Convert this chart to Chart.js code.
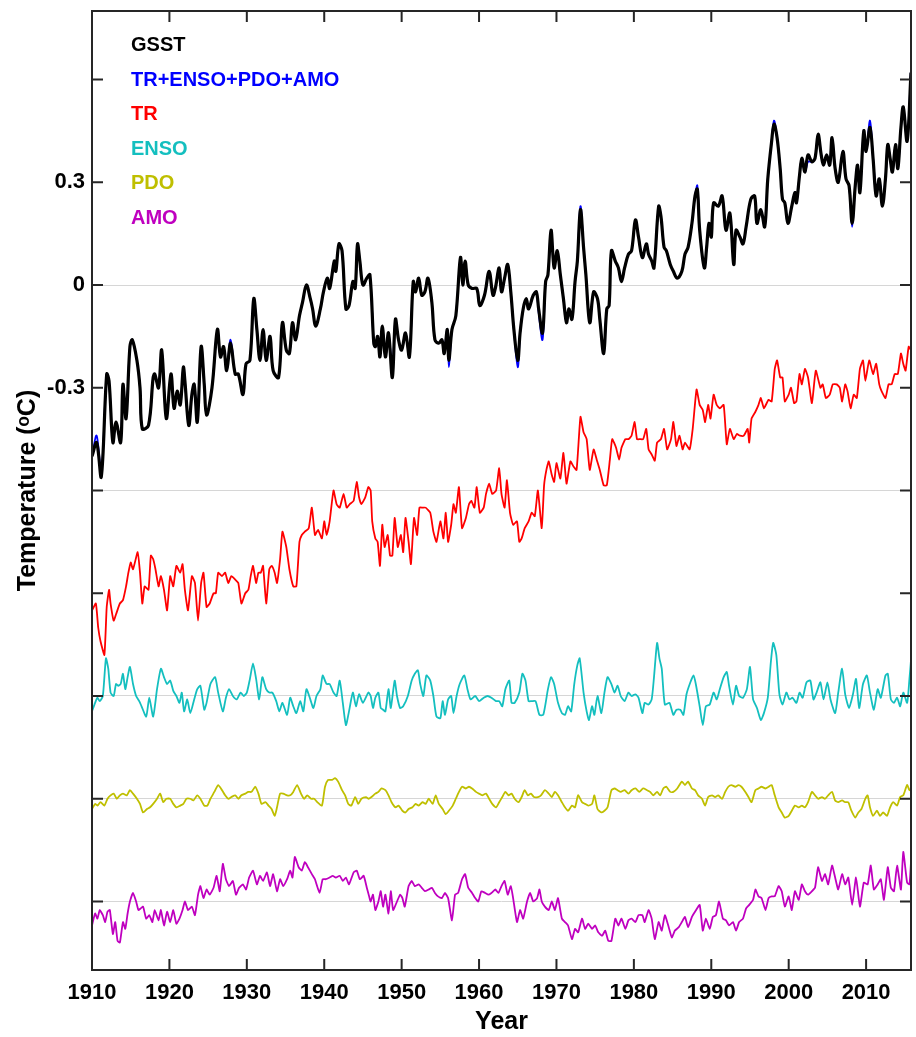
<!DOCTYPE html>
<html>
<head>
<meta charset="utf-8">
<title>GSST decomposition</title>
<script src="https://cdn.jsdelivr.net/npm/chart.js@4.4.1/dist/chart.umd.min.js"></script>
<style>
    html, body { margin: 0; padding: 0; background: #ffffff; }
    #chart { display: block; }
</style>
</head>
<body>
<canvas id="chart" width="916" height="1037"></canvas>
<script>
// Séries: [ano, valor em °C]
const gsst = [
    [1910.0,-0.50],[1910.6,-0.46],[1911.2,-0.56],[1911.9,-0.26],[1912.2,-0.28],[1912.7,-0.46],[1913.1,-0.40],[1913.7,-0.46],
    [1914.0,-0.29],[1914.4,-0.39],[1914.9,-0.18],[1915.2,-0.16],[1915.8,-0.22],[1916.2,-0.30],[1916.5,-0.42],[1917.3,-0.41],
    [1917.9,-0.27],[1918.1,-0.26],[1918.6,-0.30],[1919.0,-0.19],[1919.6,-0.39],[1920.2,-0.26],[1920.6,-0.36],[1921.0,-0.31],
    [1921.4,-0.35],[1921.8,-0.24],[1922.0,-0.28],[1922.5,-0.41],[1922.9,-0.32],[1923.2,-0.29],[1923.6,-0.40],[1924.1,-0.18],
    [1924.5,-0.29],[1924.8,-0.38],[1925.5,-0.30],[1926.2,-0.13],[1926.6,-0.21],[1927.0,-0.18],[1927.4,-0.25],[1927.9,-0.17],
    [1928.5,-0.26],[1928.9,-0.26],[1929.5,-0.32],[1929.9,-0.23],[1930.4,-0.22],[1930.9,-0.04],[1931.3,-0.13],[1931.7,-0.22],
    [1932.1,-0.13],[1932.5,-0.22],[1933.0,-0.15],[1933.4,-0.25],[1934.1,-0.27],[1934.6,-0.11],[1935.1,-0.19],[1935.5,-0.20],
    [1935.9,-0.11],[1936.3,-0.16],[1936.8,-0.09],[1937.2,-0.05],[1937.7,0.00],[1938.2,-0.04],[1938.5,-0.07],[1938.9,-0.12],
    [1939.5,-0.07],[1939.9,-0.02],[1940.4,0.02],[1940.7,-0.01],[1941.3,0.07],[1941.5,0.04],[1941.9,0.12],[1942.3,0.10],
    [1942.8,-0.07],[1943.2,-0.06],[1943.7,0.01],[1944.0,-0.01],[1944.3,0.12],[1944.6,0.07],[1945.0,0.00],[1945.5,0.02],
    [1945.9,0.03],[1946.4,-0.17],[1946.6,-0.18],[1946.9,-0.15],[1947.2,-0.21],[1947.5,-0.12],[1947.9,-0.21],[1948.3,-0.14],
    [1948.8,-0.27],[1949.2,-0.10],[1949.6,-0.16],[1950.0,-0.19],[1950.5,-0.14],[1951.0,-0.21],[1951.5,0.01],[1951.8,-0.02],
    [1952.2,0.02],[1952.6,-0.03],[1953.0,-0.02],[1953.4,0.02],[1953.9,-0.05],[1954.3,-0.16],[1954.8,-0.17],[1955.2,-0.16],
    [1955.5,-0.20],[1955.9,-0.13],[1956.1,-0.22],[1956.5,-0.13],[1957.0,-0.09],[1957.6,0.08],[1957.9,0.00],[1958.2,0.07],
    [1958.6,0.00],[1959.1,-0.01],[1959.7,-0.01],[1960.1,-0.06],[1960.7,-0.03],[1961.3,0.04],[1961.8,-0.03],[1962.1,-0.01],
    [1962.6,0.05],[1962.9,-0.02],[1963.3,0.02],[1963.7,0.06],[1964.1,-0.02],[1964.5,-0.13],[1965.0,-0.22],[1965.3,-0.14],
    [1965.7,-0.07],[1966.1,-0.04],[1966.4,-0.07],[1967.0,-0.03],[1967.4,-0.02],[1967.7,-0.07],[1968.2,-0.14],[1968.6,0.01],
    [1968.9,0.03],[1969.3,0.16],[1969.7,0.05],[1970.1,0.10],[1970.5,0.03],[1970.9,-0.04],[1971.3,-0.11],[1971.6,-0.07],
    [1972.0,-0.10],[1972.4,0.01],[1972.7,0.07],[1973.1,0.22],[1973.5,0.11],[1973.8,0.03],[1974.3,-0.11],[1974.8,-0.02],
    [1975.3,-0.04],[1975.6,-0.10],[1976.1,-0.20],[1976.5,-0.07],[1976.8,-0.06],[1977.1,0.10],[1977.6,0.07],[1978.0,0.05],
    [1978.4,0.01],[1978.8,0.05],[1979.3,0.09],[1979.7,0.10],[1980.2,0.19],[1980.6,0.14],[1981.1,0.08],[1981.6,0.12],
    [1981.9,0.09],[1982.3,0.07],[1982.6,0.05],[1983.2,0.23],[1983.5,0.20],[1983.9,0.11],[1984.2,0.10],[1984.7,0.06],
    [1985.1,0.04],[1985.6,0.02],[1986.2,0.04],[1986.6,0.09],[1987.0,0.11],[1987.5,0.18],[1987.9,0.26],[1988.2,0.28],
    [1988.5,0.16],[1989.1,0.05],[1989.4,0.11],[1989.7,0.18],[1990.0,0.14],[1990.3,0.24],[1990.9,0.23],[1991.4,0.26],
    [1991.9,0.16],[1992.4,0.21],[1992.9,0.06],[1993.2,0.16],[1993.7,0.14],[1994.1,0.12],[1994.5,0.17],[1995.1,0.25],
    [1995.6,0.26],[1995.9,0.18],[1996.4,0.22],[1996.9,0.17],[1997.3,0.31],[1997.8,0.42],[1998.1,0.47],[1998.5,0.43],
    [1998.9,0.34],[1999.2,0.25],[1999.5,0.24],[1999.9,0.18],[2000.4,0.23],[2000.8,0.27],[2001.0,0.24],[2001.4,0.32],
    [2001.7,0.37],[2002.1,0.33],[2002.5,0.38],[2003.0,0.36],[2003.4,0.37],[2003.8,0.44],[2004.2,0.38],[2004.5,0.35],
    [2004.9,0.38],[2005.3,0.35],[2005.6,0.43],[2006.0,0.34],[2006.4,0.30],[2007.0,0.39],[2007.4,0.31],[2007.8,0.29],
    [2008.2,0.18],[2008.6,0.29],[2008.9,0.35],[2009.2,0.27],[2009.7,0.45],[2010.0,0.39],[2010.5,0.46],[2010.9,0.37],
    [2011.3,0.26],[2011.7,0.31],[2012.1,0.23],[2012.5,0.31],[2012.8,0.41],[2013.1,0.37],[2013.4,0.33],[2013.8,0.41],
    [2014.1,0.34],[2014.5,0.46],[2014.8,0.52],[2015.3,0.42],[2015.8,0.62]
];

const modelSum = [
    [1910.0,-0.50],[1910.6,-0.44],[1911.2,-0.55],[1911.9,-0.26],[1912.2,-0.28],[1912.7,-0.46],[1913.1,-0.40],[1913.7,-0.46],
    [1914.0,-0.29],[1914.4,-0.38],[1914.9,-0.18],[1915.2,-0.16],[1915.8,-0.22],[1916.2,-0.30],[1916.5,-0.42],[1917.3,-0.41],
    [1917.9,-0.27],[1918.1,-0.26],[1918.6,-0.30],[1919.0,-0.19],[1919.6,-0.39],[1920.2,-0.26],[1920.6,-0.36],[1921.0,-0.31],
    [1921.4,-0.35],[1921.8,-0.24],[1922.0,-0.28],[1922.5,-0.41],[1922.9,-0.32],[1923.2,-0.29],[1923.6,-0.40],[1924.1,-0.18],
    [1924.5,-0.29],[1924.8,-0.38],[1925.5,-0.30],[1926.2,-0.13],[1926.6,-0.21],[1927.0,-0.18],[1927.4,-0.25],[1927.9,-0.16],
    [1928.5,-0.26],[1928.9,-0.26],[1929.5,-0.32],[1929.9,-0.23],[1930.4,-0.22],[1930.9,-0.04],[1931.3,-0.13],[1931.7,-0.22],
    [1932.1,-0.13],[1932.5,-0.22],[1933.0,-0.15],[1933.4,-0.25],[1934.1,-0.27],[1934.6,-0.11],[1935.1,-0.19],[1935.5,-0.20],
    [1935.9,-0.11],[1936.3,-0.16],[1936.8,-0.09],[1937.2,-0.05],[1937.7,0.00],[1938.2,-0.04],[1938.5,-0.07],[1938.9,-0.12],
    [1939.5,-0.07],[1939.9,-0.02],[1940.4,0.02],[1940.7,-0.01],[1941.3,0.07],[1941.5,0.04],[1941.9,0.12],[1942.3,0.10],
    [1942.8,-0.07],[1943.2,-0.06],[1943.7,0.01],[1944.0,-0.01],[1944.3,0.12],[1944.6,0.07],[1945.0,0.00],[1945.5,0.02],
    [1945.9,0.03],[1946.4,-0.17],[1946.6,-0.18],[1946.9,-0.16],[1947.2,-0.21],[1947.5,-0.12],[1947.9,-0.21],[1948.3,-0.14],
    [1948.8,-0.25],[1949.2,-0.10],[1949.6,-0.16],[1950.0,-0.19],[1950.5,-0.14],[1951.0,-0.21],[1951.5,0.01],[1951.8,-0.02],
    [1952.2,0.02],[1952.6,-0.03],[1953.0,-0.02],[1953.4,0.02],[1953.9,-0.05],[1954.3,-0.16],[1954.8,-0.17],[1955.2,-0.16],
    [1955.5,-0.19],[1955.9,-0.13],[1956.1,-0.24],[1956.5,-0.13],[1957.0,-0.09],[1957.6,0.08],[1957.9,0.00],[1958.2,0.07],
    [1958.6,0.00],[1959.1,-0.01],[1959.7,-0.01],[1960.1,-0.06],[1960.7,-0.03],[1961.3,0.04],[1961.8,-0.03],[1962.1,-0.01],
    [1962.6,0.05],[1962.9,-0.02],[1963.3,0.02],[1963.7,0.06],[1964.1,-0.02],[1964.5,-0.13],[1965.0,-0.24],[1965.3,-0.14],
    [1965.7,-0.07],[1966.1,-0.04],[1966.4,-0.07],[1967.0,-0.03],[1967.4,-0.02],[1967.7,-0.08],[1968.2,-0.16],[1968.6,0.01],
    [1968.9,0.03],[1969.3,0.16],[1969.7,0.05],[1970.1,0.10],[1970.5,0.03],[1970.9,-0.04],[1971.3,-0.11],[1971.6,-0.07],
    [1972.0,-0.10],[1972.4,0.01],[1972.7,0.07],[1973.1,0.23],[1973.5,0.11],[1973.8,0.03],[1974.3,-0.11],[1974.8,-0.02],
    [1975.3,-0.04],[1975.6,-0.10],[1976.1,-0.20],[1976.5,-0.07],[1976.8,-0.06],[1977.1,0.10],[1977.6,0.07],[1978.0,0.05],
    [1978.4,0.01],[1978.8,0.05],[1979.3,0.09],[1979.7,0.10],[1980.2,0.19],[1980.6,0.14],[1981.1,0.08],[1981.6,0.12],
    [1981.9,0.09],[1982.3,0.07],[1982.6,0.05],[1983.2,0.23],[1983.5,0.20],[1983.9,0.11],[1984.2,0.10],[1984.7,0.06],
    [1985.1,0.04],[1985.6,0.02],[1986.2,0.04],[1986.6,0.09],[1987.0,0.11],[1987.5,0.18],[1987.9,0.26],[1988.2,0.29],
    [1988.5,0.16],[1989.1,0.05],[1989.4,0.11],[1989.7,0.18],[1990.0,0.14],[1990.3,0.24],[1990.9,0.23],[1991.4,0.26],
    [1991.9,0.16],[1992.4,0.21],[1992.9,0.07],[1993.2,0.16],[1993.7,0.14],[1994.1,0.12],[1994.5,0.17],[1995.1,0.25],
    [1995.6,0.26],[1995.9,0.18],[1996.4,0.22],[1996.9,0.17],[1997.3,0.31],[1997.8,0.42],[1998.1,0.48],[1998.5,0.43],
    [1998.9,0.34],[1999.2,0.25],[1999.5,0.24],[1999.9,0.18],[2000.4,0.23],[2000.8,0.27],[2001.0,0.24],[2001.4,0.32],
    [2001.7,0.37],[2002.1,0.33],[2002.5,0.36],[2003.0,0.36],[2003.4,0.37],[2003.8,0.44],[2004.2,0.38],[2004.5,0.35],
    [2004.9,0.38],[2005.3,0.35],[2005.6,0.43],[2006.0,0.34],[2006.4,0.30],[2007.0,0.39],[2007.4,0.31],[2007.8,0.29],
    [2008.2,0.17],[2008.6,0.29],[2008.9,0.35],[2009.2,0.27],[2009.7,0.45],[2010.0,0.39],[2010.5,0.48],[2010.9,0.37],
    [2011.3,0.28],[2011.7,0.31],[2012.1,0.24],[2012.5,0.31],[2012.8,0.41],[2013.1,0.37],[2013.4,0.33],[2013.8,0.41],
    [2014.1,0.34],[2014.5,0.46],[2014.8,0.52],[2015.3,0.42],[2015.8,0.63]
];

const tr = [
    [1910.0,-0.35],[1910.5,-0.33],[1910.8,-0.40],[1911.1,-0.44],[1911.6,-0.48],[1911.9,-0.34],[1912.2,-0.29],[1912.4,-0.33],
    [1912.8,-0.38],[1913.2,-0.355],[1913.6,-0.33],[1914.0,-0.32],[1914.4,-0.28],[1914.7,-0.24],[1915.0,-0.21],[1915.3,-0.23],
    [1915.9,-0.18],[1916.2,-0.24],[1916.5,-0.33],[1916.8,-0.28],[1917.3,-0.29],[1917.6,-0.19],[1917.9,-0.20],[1918.2,-0.23],
    [1918.6,-0.28],[1918.9,-0.25],[1919.3,-0.29],[1919.7,-0.35],[1920.1,-0.25],[1920.5,-0.28],[1920.9,-0.22],[1921.4,-0.24],
    [1921.7,-0.215],[1922.0,-0.29],[1922.4,-0.35],[1922.9,-0.25],[1923.3,-0.27],[1923.7,-0.38],[1924.1,-0.27],[1924.4,-0.24],
    [1924.8,-0.34],[1925.2,-0.33],[1925.7,-0.30],[1926.0,-0.30],[1926.3,-0.24],[1926.8,-0.25],[1927.2,-0.24],[1927.6,-0.27],
    [1928.0,-0.25],[1928.5,-0.26],[1928.9,-0.27],[1929.3,-0.33],[1929.8,-0.30],[1930.2,-0.29],[1930.5,-0.25],[1930.8,-0.22],
    [1931.2,-0.27],[1931.5,-0.24],[1931.8,-0.24],[1932.1,-0.22],[1932.5,-0.33],[1932.9,-0.23],[1933.2,-0.22],[1933.6,-0.24],
    [1933.9,-0.27],[1934.3,-0.20],[1934.6,-0.12],[1935.1,-0.165],[1935.5,-0.23],[1936.0,-0.28],[1936.4,-0.28],[1936.8,-0.15],
    [1937.1,-0.13],[1937.5,-0.12],[1938.0,-0.11],[1938.4,-0.05],[1938.8,-0.13],[1939.2,-0.115],[1939.7,-0.14],[1940.0,-0.09],
    [1940.3,-0.13],[1940.7,-0.09],[1941.2,0.00],[1941.6,-0.04],[1942.0,-0.05],[1942.5,-0.01],[1942.9,-0.05],[1943.3,-0.04],
    [1943.8,-0.03],[1944.2,0.025],[1944.5,-0.02],[1944.8,-0.04],[1945.3,-0.02],[1945.7,0.01],[1946.0,0.00],[1946.2,-0.09],
    [1946.6,-0.14],[1946.9,-0.15],[1947.2,-0.22],[1947.5,-0.10],[1947.8,-0.165],[1948.2,-0.13],[1948.5,-0.19],[1948.8,-0.19],
    [1949.1,-0.08],[1949.5,-0.165],[1949.9,-0.13],[1950.2,-0.18],[1950.5,-0.08],[1950.9,-0.15],[1951.2,-0.215],[1951.6,-0.08],
    [1952.0,-0.13],[1952.3,-0.05],[1952.7,-0.05],[1953.1,-0.05],[1953.7,-0.065],[1954.1,-0.12],[1954.5,-0.15],[1955.0,-0.09],
    [1955.4,-0.14],[1955.7,-0.065],[1956.0,-0.15],[1956.4,-0.10],[1956.7,-0.04],[1957.0,-0.065],[1957.4,0.01],[1957.8,-0.11],
    [1958.3,-0.08],[1958.7,-0.04],[1959.0,-0.03],[1959.4,-0.05],[1959.7,0.01],[1960.1,-0.065],[1960.6,-0.05],[1960.9,-0.01],
    [1961.3,0.02],[1961.7,-0.01],[1962.2,0.00],[1962.6,0.065],[1962.9,-0.01],[1963.3,-0.05],[1963.6,0.03],[1964.0,-0.065],
    [1964.4,-0.10],[1964.9,-0.09],[1965.2,-0.15],[1965.5,-0.14],[1965.9,-0.11],[1966.4,-0.09],[1966.8,-0.065],[1967.2,-0.075],
    [1967.6,0.00],[1968.1,-0.11],[1968.4,0.015],[1968.7,0.06],[1969.0,0.085],[1969.4,0.045],[1969.7,0.025],[1970.0,0.08],
    [1970.5,0.035],[1970.9,0.11],[1971.3,0.02],[1971.8,0.085],[1972.2,0.07],[1972.6,0.06],[1973.1,0.215],[1973.5,0.17],
    [1973.9,0.15],[1974.3,0.06],[1974.8,0.12],[1975.2,0.09],[1975.6,0.06],[1976.1,0.015],[1976.5,0.015],[1976.9,0.09],
    [1977.2,0.15],[1977.7,0.125],[1978.1,0.09],[1978.4,0.125],[1978.9,0.15],[1979.3,0.15],[1979.7,0.16],[1980.1,0.20],
    [1980.4,0.15],[1980.8,0.15],[1981.2,0.15],[1981.6,0.18],[1981.9,0.12],[1982.3,0.105],[1982.7,0.087],[1983.0,0.14],
    [1983.5,0.15],[1983.9,0.18],[1984.3,0.12],[1984.8,0.15],[1985.1,0.20],[1985.5,0.13],[1985.9,0.16],[1986.3,0.12],
    [1986.6,0.14],[1987.2,0.12],[1987.6,0.18],[1988.1,0.295],[1988.5,0.25],[1988.9,0.235],[1989.2,0.20],[1989.6,0.25],
    [1989.9,0.21],[1990.3,0.28],[1990.7,0.25],[1991.1,0.24],[1991.6,0.25],[1992.0,0.135],[1992.4,0.18],[1992.9,0.15],
    [1993.3,0.165],[1993.7,0.16],[1994.2,0.16],[1994.7,0.18],[1994.9,0.14],[1995.2,0.21],[1995.7,0.23],[1996.1,0.25],
    [1996.4,0.27],[1996.8,0.24],[1997.4,0.265],[1997.8,0.26],[1998.2,0.355],[1998.5,0.38],[1998.9,0.33],[1999.2,0.33],
    [1999.5,0.26],[2000.0,0.28],[2000.3,0.30],[2000.7,0.255],[2001.0,0.26],[2001.4,0.34],[2001.7,0.31],[2002.1,0.355],
    [2002.5,0.33],[2003.0,0.255],[2003.5,0.35],[2004.1,0.30],[2004.4,0.31],[2004.8,0.27],[2005.3,0.28],[2005.7,0.31],
    [2006.2,0.31],[2006.6,0.30],[2006.9,0.26],[2007.3,0.31],[2007.6,0.29],[2008.0,0.24],[2008.4,0.28],[2008.8,0.27],
    [2009.2,0.355],[2009.6,0.38],[2009.9,0.32],[2010.4,0.38],[2010.9,0.34],[2011.3,0.37],[2011.7,0.31],[2012.0,0.29],
    [2012.5,0.27],[2012.9,0.31],[2013.3,0.31],[2013.7,0.34],[2014.1,0.34],[2014.5,0.40],[2014.8,0.37],[2015.1,0.35],
    [2015.5,0.42],[2015.8,0.41]
];

const enso = [
    [1910.0,-0.045],[1910.4,-0.02],[1910.7,-0.005],[1911.0,-0.015],[1911.4,0.0],[1911.8,0.11],[1912.1,0.08],[1912.4,0.01],
    [1912.8,0.0],[1913.1,0.035],[1913.4,0.03],[1913.7,0.035],[1914.0,0.065],[1914.3,0.02],[1914.6,0.055],[1914.9,0.085],
    [1915.3,0.035],[1915.7,0.0],[1916.1,-0.015],[1916.4,-0.03],[1917.0,-0.06],[1917.4,-0.005],[1917.9,-0.06],[1918.4,0.02],
    [1918.9,0.08],[1919.3,0.055],[1919.7,0.035],[1920.1,0.045],[1920.5,0.015],[1920.9,0.0],[1921.3,-0.02],[1921.6,0.01],
    [1921.9,-0.045],[1922.3,-0.01],[1922.7,-0.05],[1923.2,-0.01],[1923.6,0.02],[1924.0,0.03],[1924.5,-0.04],[1924.8,-0.02],
    [1925.3,0.035],[1925.9,0.055],[1926.3,0.01],[1926.9,-0.045],[1927.3,-0.005],[1927.7,0.02],[1928.2,0.0],[1928.7,-0.01],
    [1929.2,0.01],[1929.6,0.0],[1930.0,0.01],[1930.4,0.05],[1930.8,0.095],[1931.2,0.05],[1931.6,-0.01],[1932.0,0.055],
    [1932.5,0.02],[1932.9,0.01],[1933.3,0.01],[1933.8,-0.015],[1934.2,-0.045],[1934.6,-0.02],[1935.2,-0.055],[1935.6,-0.005],
    [1936.0,-0.03],[1936.4,-0.05],[1936.9,-0.015],[1937.3,-0.045],[1937.7,0.02],[1938.2,-0.01],[1938.6,-0.035],[1939.0,0.0],
    [1939.5,0.02],[1939.8,0.06],[1940.3,0.035],[1940.7,0.035],[1941.2,0.01],[1941.6,0.0],[1942.0,0.045],[1942.4,-0.02],
    [1942.8,-0.085],[1943.2,-0.045],[1943.7,0.01],[1944.1,-0.03],[1944.5,0.005],[1945.0,-0.02],[1945.7,0.01],[1946.0,0.0],
    [1946.3,-0.035],[1946.6,-0.005],[1947.0,0.01],[1947.3,-0.035],[1947.6,-0.04],[1947.9,-0.045],[1948.3,0.02],[1948.6,-0.035],
    [1949.1,0.045],[1949.4,0.0],[1949.8,-0.035],[1950.2,-0.03],[1950.8,0.0],[1951.3,0.045],[1951.7,0.065],[1952.1,0.075],
    [1952.4,0.035],[1952.8,0.0],[1953.2,0.06],[1953.7,0.045],[1954.1,0.0],[1954.5,-0.06],[1955.0,-0.065],[1955.3,-0.015],
    [1955.6,-0.055],[1956.0,-0.01],[1956.4,0.0],[1956.7,-0.05],[1957.1,0.0],[1957.5,0.035],[1958.1,0.06],[1958.5,0.02],
    [1958.9,-0.01],[1959.5,0.0],[1960.0,-0.015],[1960.6,-0.005],[1961.1,0.0],[1961.6,-0.005],[1962.2,-0.015],[1962.6,-0.015],
    [1963.0,-0.03],[1963.4,0.02],[1963.9,0.045],[1964.2,-0.02],[1964.6,-0.02],[1965.2,0.01],[1965.6,0.065],[1966.0,0.045],
    [1966.4,-0.015],[1966.8,-0.015],[1967.3,-0.015],[1967.8,-0.055],[1968.3,-0.055],[1968.9,0.02],[1969.3,0.055],[1969.7,0.035],
    [1970.2,-0.02],[1970.7,-0.05],[1971.1,-0.055],[1971.5,-0.03],[1971.9,-0.045],[1972.3,0.035],[1972.7,0.09],[1973.0,0.11],
    [1973.5,0.01],[1973.9,-0.045],[1974.2,-0.07],[1974.6,-0.03],[1974.9,-0.055],[1975.3,0.0],[1975.8,-0.05],[1976.2,0.01],
    [1976.6,0.055],[1977.1,0.035],[1977.5,0.01],[1977.9,0.03],[1978.3,0.0],[1978.8,-0.015],[1979.3,0.01],[1979.7,0.0],
    [1980.2,0.005],[1980.6,-0.005],[1981.1,-0.05],[1981.4,-0.02],[1981.9,-0.025],[1982.3,-0.01],[1982.6,0.055],[1983.0,0.155],
    [1983.3,0.11],[1983.6,0.08],[1984.0,-0.025],[1984.6,-0.02],[1985.1,-0.055],[1985.5,-0.04],[1986.0,-0.04],[1986.4,-0.055],
    [1986.8,0.005],[1987.3,0.04],[1987.7,0.06],[1988.0,0.035],[1988.5,-0.03],[1988.9,-0.085],[1989.3,-0.03],[1989.8,-0.025],
    [1990.3,0.01],[1990.7,-0.01],[1991.1,0.02],[1991.6,0.055],[1992.0,0.07],[1992.3,0.03],[1992.8,-0.025],[1993.2,0.03],
    [1993.6,0.0],[1994.1,-0.005],[1994.6,0.02],[1995.0,0.085],[1995.4,-0.01],[1995.9,-0.035],[1996.4,-0.07],[1996.8,-0.05],
    [1997.3,-0.005],[1997.7,0.10],[1998.0,0.155],[1998.4,0.12],[1998.8,0.005],[1999.2,-0.025],[1999.7,0.01],[2000.1,-0.01],
    [2000.5,-0.005],[2001.0,-0.02],[2001.4,0.01],[2001.8,-0.005],[2002.3,0.04],[2002.8,0.045],[2003.2,-0.01],[2003.6,0.01],
    [2004.1,0.04],[2004.5,-0.01],[2005.0,0.04],[2005.4,-0.01],[2006.0,-0.05],[2006.4,0.01],[2006.9,0.08],[2007.3,0.005],
    [2007.8,-0.035],[2008.3,0.005],[2008.7,0.05],[2009.1,-0.035],[2009.6,0.035],[2010.1,0.06],[2010.5,0.01],[2011.0,-0.04],
    [2011.5,0.02],[2011.9,-0.005],[2012.5,0.06],[2012.8,0.065],[2013.2,-0.01],[2013.6,-0.02],[2014.0,-0.005],[2014.4,-0.03],
    [2014.8,0.01],[2015.3,-0.02],[2015.6,0.05],[2015.8,0.105]
];

const pdo = [
    [1910.0,-0.03],[1910.4,-0.015],[1910.7,-0.02],[1911.1,-0.01],[1911.6,-0.02],[1912.0,0.0],[1912.4,0.01],[1912.8,0.015],
    [1913.2,0.0],[1913.6,0.01],[1914.0,0.015],[1914.5,0.01],[1914.9,0.025],[1915.3,0.015],[1915.8,0.0],[1916.2,-0.015],
    [1916.6,-0.04],[1917.1,-0.03],[1917.5,-0.025],[1917.9,-0.015],[1918.4,0.0],[1918.8,0.015],[1919.2,-0.01],[1919.6,0.0],
    [1920.1,0.0],[1920.5,-0.015],[1920.9,-0.025],[1921.4,-0.02],[1921.8,-0.015],[1922.2,0.0],[1922.7,0.0],[1923.1,-0.005],
    [1923.6,0.01],[1924.0,0.0],[1924.5,-0.02],[1924.9,-0.02],[1925.3,0.0],[1925.8,0.02],[1926.3,0.04],[1926.8,0.025],
    [1927.2,0.01],[1927.6,0.0],[1928.0,0.005],[1928.5,0.01],[1928.9,0.0],[1929.3,0.01],[1929.8,0.015],[1930.2,0.02],
    [1930.6,0.02],[1931.1,0.035],[1931.5,0.015],[1931.9,-0.015],[1932.4,-0.01],[1932.8,-0.02],[1933.2,-0.03],[1933.6,-0.05],
    [1933.9,-0.025],[1934.3,0.015],[1934.7,0.015],[1935.2,0.01],[1935.6,0.01],[1936.0,0.02],[1936.5,0.04],[1937.0,0.015],
    [1937.4,0.0],[1937.8,0.01],[1938.3,0.0],[1938.7,0.0],[1939.1,-0.01],[1939.7,-0.02],[1940.1,0.035],[1940.5,0.055],
    [1941.0,0.055],[1941.4,0.06],[1941.8,0.05],[1942.3,0.025],[1942.7,0.01],[1943.1,-0.015],[1943.5,-0.02],[1944.0,0.005],
    [1944.4,-0.015],[1944.8,0.0],[1945.4,0.005],[1945.7,0.0],[1946.1,0.005],[1946.6,0.015],[1947.0,0.02],[1947.4,0.03],
    [1947.9,0.025],[1948.3,0.01],[1948.7,-0.01],[1949.2,-0.025],[1949.6,-0.02],[1950.1,-0.035],[1950.5,-0.04],[1950.9,-0.03],
    [1951.4,-0.025],[1951.8,-0.015],[1952.2,-0.02],[1952.7,-0.01],[1953.1,-0.015],[1953.5,0.0],[1954.0,-0.015],[1954.4,0.01],
    [1954.8,-0.015],[1955.3,-0.03],[1955.7,-0.045],[1956.1,-0.035],[1956.6,-0.02],[1957.0,0.0],[1957.4,0.02],[1957.8,0.035],
    [1958.3,0.03],[1958.7,0.035],[1959.1,0.03],[1959.6,0.02],[1960.0,0.015],[1960.4,0.01],[1960.9,0.015],[1961.3,0.0],
    [1961.7,-0.015],[1962.2,-0.025],[1962.6,-0.01],[1963.0,0.005],[1963.4,0.02],[1963.8,0.01],[1964.2,0.015],[1964.6,0.0],
    [1965.1,-0.01],[1965.5,0.005],[1965.9,0.025],[1966.3,0.01],[1966.7,0.015],[1967.1,0.005],[1967.6,0.005],[1968.0,0.01],
    [1968.5,0.025],[1969.0,0.015],[1969.4,0.005],[1969.8,0.02],[1970.2,0.01],[1970.7,-0.01],[1971.1,-0.025],[1971.5,-0.035],
    [1972.0,-0.02],[1972.4,-0.025],[1972.8,0.01],[1973.3,-0.01],[1973.7,-0.015],[1974.1,-0.02],[1974.6,-0.015],[1974.9,0.01],
    [1975.3,-0.03],[1975.8,-0.04],[1976.2,-0.035],[1976.6,-0.025],[1977.1,0.025],[1977.5,0.03],[1977.9,0.025],[1978.3,0.02],
    [1978.8,0.025],[1979.3,0.015],[1979.7,0.025],[1980.2,0.03],[1980.7,0.02],[1981.2,0.03],[1981.7,0.025],[1982.1,0.02],
    [1982.5,0.01],[1983.0,0.02],[1983.4,0.01],[1983.8,0.03],[1984.2,0.035],[1984.7,0.02],[1985.1,0.02],[1985.6,0.03],
    [1986.2,0.05],[1986.6,0.04],[1987.0,0.05],[1987.5,0.03],[1987.9,0.025],[1988.3,0.01],[1988.8,0.0],[1989.2,-0.02],
    [1989.6,0.005],[1990.1,0.01],[1990.5,0.005],[1990.9,0.01],[1991.4,0.0],[1991.8,0.02],[1992.2,0.035],[1992.6,0.04],
    [1993.1,0.035],[1993.5,0.04],[1993.9,0.035],[1994.4,0.02],[1994.8,0.005],[1995.2,-0.01],[1995.7,0.025],[1996.1,0.03],
    [1996.5,0.035],[1997.0,0.03],[1997.4,0.035],[1997.8,0.04],[1998.2,0.01],[1998.7,-0.025],[1999.1,-0.04],[1999.5,-0.055],
    [2000.0,-0.05],[2000.4,-0.035],[2000.8,-0.02],[2001.3,-0.025],[2001.7,-0.02],[2002.1,-0.025],[2002.5,-0.01],[2003.0,0.02],
    [2003.4,0.01],[2003.8,0.0],[2004.3,0.005],[2004.7,0.0],[2005.1,0.01],[2005.6,0.02],[2006.0,-0.005],[2006.4,-0.01],
    [2006.9,-0.005],[2007.3,-0.01],[2007.7,-0.01],[2008.1,-0.035],[2008.6,-0.055],[2009.0,-0.04],[2009.4,-0.03],[2009.9,0.0],
    [2010.2,0.01],[2010.5,-0.025],[2010.9,-0.05],[2011.4,-0.035],[2011.8,-0.05],[2012.2,-0.04],[2012.7,-0.05],[2013.1,-0.025],
    [2013.5,-0.01],[2014.0,-0.02],[2014.4,0.005],[2014.8,0.01],[2015.3,0.04],[2015.6,0.025],[2015.8,0.03]
];

const amo = [
    [1910.0,-0.07],[1910.4,-0.035],[1910.7,-0.05],[1911.0,-0.025],[1911.4,-0.04],[1911.7,-0.06],[1912.0,-0.03],[1912.3,-0.025],
    [1912.7,-0.095],[1913.0,-0.06],[1913.3,-0.115],[1913.6,-0.12],[1914.0,-0.06],[1914.3,-0.08],[1914.6,-0.035],[1914.9,0.0],
    [1915.3,0.025],[1915.7,0.0],[1916.0,-0.025],[1916.3,-0.02],[1916.6,-0.015],[1917.0,-0.05],[1917.4,-0.04],[1917.8,-0.06],
    [1918.1,-0.025],[1918.6,-0.055],[1918.9,-0.025],[1919.3,-0.07],[1919.7,-0.03],[1920.1,-0.06],[1920.5,-0.025],[1920.9,-0.065],
    [1921.3,-0.05],[1921.7,-0.025],[1922.0,0.0],[1922.4,-0.025],[1922.9,-0.015],[1923.3,-0.04],[1923.7,0.02],[1924.0,0.045],
    [1924.4,0.01],[1924.8,0.035],[1925.2,0.02],[1925.7,0.04],[1926.1,0.075],[1926.5,0.03],[1926.9,0.11],[1927.3,0.065],
    [1927.7,0.045],[1928.2,0.06],[1928.6,0.02],[1929.0,0.04],[1929.5,0.05],[1929.9,0.035],[1930.3,0.07],[1930.8,0.09],
    [1931.3,0.05],[1931.7,0.075],[1932.1,0.06],[1932.6,0.085],[1933.0,0.045],[1933.4,0.08],[1933.9,0.03],[1934.3,0.065],
    [1934.7,0.045],[1935.2,0.065],[1935.6,0.09],[1935.9,0.07],[1936.2,0.13],[1936.7,0.10],[1937.1,0.09],[1937.5,0.115],
    [1937.9,0.10],[1938.4,0.08],[1938.8,0.065],[1939.4,0.025],[1939.8,0.065],[1940.2,0.065],[1940.7,0.07],[1941.1,0.075],
    [1941.5,0.07],[1942.0,0.075],[1942.4,0.06],[1942.8,0.07],[1943.2,0.05],[1943.8,0.085],[1944.2,0.09],[1944.6,0.065],
    [1945.1,0.075],[1945.5,0.04],[1945.8,0.015],[1946.0,0.0],[1946.3,0.02],[1946.6,-0.025],[1947.0,0.0],[1947.3,0.03],
    [1947.6,-0.015],[1947.9,0.02],[1948.3,-0.035],[1948.6,0.03],[1948.9,-0.025],[1949.4,0.0],[1949.8,0.02],[1950.1,0.01],
    [1950.4,-0.015],[1950.9,0.045],[1951.3,0.06],[1951.7,0.045],[1952.2,0.05],[1952.6,0.04],[1953.0,0.03],[1953.5,0.035],
    [1953.9,0.04],[1954.3,0.025],[1954.7,0.015],[1955.2,0.01],[1955.6,0.025],[1956.0,0.01],[1956.5,-0.055],[1956.9,0.02],
    [1957.3,0.025],[1957.8,0.065],[1958.2,0.08],[1958.6,0.04],[1959.1,0.025],[1959.5,0.01],[1959.9,0.0],[1960.3,0.03],
    [1960.8,0.025],[1961.2,0.02],[1961.6,0.025],[1962.1,0.035],[1962.5,0.025],[1962.9,0.045],[1963.3,0.06],[1963.7,0.02],
    [1964.1,0.045],[1964.4,0.01],[1964.9,-0.06],[1965.3,-0.025],[1965.7,-0.05],[1966.2,0.0],[1966.6,0.025],[1967.0,0.0],
    [1967.5,0.01],[1967.8,0.035],[1968.1,0.0],[1968.5,-0.015],[1969.0,-0.025],[1969.4,0.0],[1969.8,-0.025],[1970.2,0.01],
    [1970.7,-0.05],[1971.1,-0.06],[1971.5,-0.07],[1972.0,-0.11],[1972.4,-0.08],[1972.8,-0.09],[1973.3,-0.05],[1973.7,-0.08],
    [1974.1,-0.065],[1974.6,-0.08],[1975.0,-0.07],[1975.4,-0.09],[1975.9,-0.10],[1976.3,-0.085],[1976.7,-0.115],[1977.1,-0.115],
    [1977.6,-0.05],[1978.0,-0.07],[1978.4,-0.05],[1978.9,-0.08],[1979.3,-0.055],[1979.7,-0.05],[1980.2,-0.06],[1980.6,-0.04],
    [1981.1,-0.04],[1981.4,-0.06],[1981.9,-0.025],[1982.3,-0.05],[1982.7,-0.11],[1983.2,-0.06],[1983.6,-0.085],[1984.0,-0.04],
    [1984.5,-0.075],[1984.9,-0.105],[1985.3,-0.085],[1985.8,-0.075],[1986.2,-0.06],[1986.6,-0.045],[1987.0,-0.075],[1987.5,-0.045],
    [1987.9,-0.03],[1988.5,-0.01],[1988.9,-0.085],[1989.3,-0.05],[1989.8,-0.08],[1990.2,-0.045],[1990.6,-0.04],[1991.0,0.0],
    [1991.5,-0.05],[1991.9,-0.055],[1992.3,-0.07],[1992.8,-0.06],[1993.2,-0.085],[1993.6,-0.06],[1994.1,-0.05],[1994.5,-0.02],
    [1994.9,-0.01],[1995.4,0.005],[1995.7,0.035],[1996.1,0.015],[1996.5,0.01],[1997.0,-0.025],[1997.4,0.01],[1997.8,0.015],
    [1998.2,0.015],[1998.7,0.045],[1999.1,0.03],[1999.5,-0.015],[2000.0,0.015],[2000.4,-0.025],[2000.8,0.03],[2001.3,0.005],
    [2001.7,0.05],[2002.1,0.03],[2002.5,0.02],[2003.0,0.03],[2003.4,0.04],[2003.8,0.10],[2004.3,0.06],[2004.7,0.08],
    [2005.1,0.05],[2005.6,0.105],[2006.0,0.07],[2006.4,0.035],[2006.9,0.08],[2007.3,0.05],[2007.7,0.07],[2008.2,-0.01],
    [2008.7,0.07],[2009.2,-0.015],[2009.7,0.055],[2010.2,0.05],[2010.6,0.105],[2011.0,0.035],[2011.5,0.05],[2011.9,0.065],
    [2012.3,0.005],[2012.8,0.10],[2013.2,0.04],[2013.6,0.03],[2014.0,0.105],[2014.5,0.035],[2014.8,0.145],[2015.3,0.055],
    [2015.6,0.05],[2015.8,0.115]
];

// Deslocamento vertical de cada componente (empilhamento do gráfico)
const seriesOffsets = [0, 0, -0.6, -1.2, -1.5, -1.8];
const seriesLabels = ['GSST', 'TR+ENSO+PDO+AMO', 'TR', 'ENSO', 'PDO', 'AMO'];
const seriesColors = ['#000000', '#0000ff', '#ff0000', '#14bfbf', '#bfbf00', '#bf00bf'];
const seriesWidths = [3.2, 1.8, 1.8, 1.8, 1.8, 1.8];
const seriesTension = [0.35, 0.35, 0.15, 0.2, 0.2, 0.15];

const yTickValues = [0.6, 0.3, 0, -0.3, -0.6, -0.9, -1.2, -1.5, -1.8];
const yLabelled = [0.3, 0, -0.3];
const yGridValues = [0, -0.6, -1.2, -1.5, -1.8];
const xTickValues = [1910, 1920, 1930, 1940, 1950, 1960, 1970, 1980, 1990, 2000, 2010];

const FONT = '"Liberation Sans", Arial, Helvetica, sans-serif';
Chart.defaults.font.family = FONT;
Chart.defaults.color = '#000000';

function toPoints(rows, offset) {
    return rows.map(([year, value]) => ({ x: year, y: value + offset }));
}

// Legenda dentro da área do gráfico, texto colorido sem marcador
const insideLegend = {
    id: 'insideLegend',
    afterDraw(chart) {
        const { ctx, chartArea } = chart;
        ctx.save();
        ctx.font = `bold 20px ${FONT}`;
        ctx.textBaseline = 'middle';
        ctx.textAlign = 'left';
        chart.data.datasets.forEach((ds, i) => {
            ctx.fillStyle = ds.borderColor;
            ctx.fillText(ds.label, chartArea.left + 39, chartArea.top + 34.5 + i * 34.6);
        });
        ctx.restore();
    }
};

// Moldura com marcas internas nos quatro lados (estilo MATLAB)
const boxFrame = {
    id: 'boxFrame',
    afterDraw(chart) {
        const { ctx, chartArea: a, scales } = chart;
        const tick = 11;
        ctx.save();
        ctx.strokeStyle = '#262626';
        ctx.lineWidth = 2;
        ctx.beginPath();
        scales.x.ticks.forEach(t => {
            const px = scales.x.getPixelForValue(t.value);
            ctx.moveTo(px, a.bottom); ctx.lineTo(px, a.bottom - tick);
            ctx.moveTo(px, a.top); ctx.lineTo(px, a.top + tick);
        });
        scales.y.ticks.forEach(t => {
            const py = scales.y.getPixelForValue(t.value);
            ctx.moveTo(a.left, py); ctx.lineTo(a.left + tick, py);
            ctx.moveTo(a.right, py); ctx.lineTo(a.right - tick, py);
        });
        ctx.stroke();
        ctx.strokeRect(a.left, a.top, a.right - a.left, a.bottom - a.top);
        ctx.restore();
    }
};

const datasetRows = [gsst, modelSum, tr, enso, pdo, amo];

new Chart(document.getElementById('chart'), {
    type: 'line',
    data: {
        datasets: datasetRows.map((rows, i) => ({
            label: seriesLabels[i],
            data: toPoints(rows, seriesOffsets[i]),
            borderColor: seriesColors[i],
            backgroundColor: seriesColors[i],
            borderWidth: seriesWidths[i],
            borderJoinStyle: 'round',
            pointRadius: 0,
            tension: seriesTension[i],
            fill: false
        }))
    },
    options: {
        responsive: false,
        animation: false,
        layout: { padding: { left: 0, right: 5, top: 11, bottom: 0 } },
        plugins: {
            legend: { display: false },
            tooltip: { enabled: false }
        },
        scales: {
            x: {
                type: 'linear',
                min: 1910,
                max: 2015.8,
                afterBuildTicks: scale => { scale.ticks = xTickValues.map(v => ({ value: v })); },
                afterFit: scale => { scale.height = 67; },
                grid: { display: false, drawTicks: false },
                border: { display: false },
                ticks: {
                    padding: 10,
                    maxRotation: 0,
                    font: { size: 22, weight: 'bold' },
                    callback: v => String(v)
                },
                title: {
                    display: true,
                    text: 'Year',
                    font: { size: 25, weight: 'bold' },
                    padding: { top: 0, bottom: 0 }
                }
            },
            y: {
                min: -2.0,
                max: 0.8,
                afterBuildTicks: scale => { scale.ticks = yTickValues.map(v => ({ value: v })); },
                afterFit: scale => {
                    scale.width = 92;
                    // sem folga extra em cima/embaixo: a área do gráfico começa em y = 11
                    scale.paddingTop = 0;
                    scale.paddingBottom = 0;
                },
                grid: {
                    drawTicks: false,
                    lineWidth: 1,
                    color: c => (c.tick && yGridValues.includes(c.tick.value)) ? '#d6d6d6' : 'rgba(0,0,0,0)'
                },
                border: { display: false },
                ticks: {
                    padding: 7,
                    font: { size: 22, weight: 'bold' },
                    callback: v => yLabelled.includes(v) ? (v === 0 ? '0' : String(v)) : ''
                },
                title: {
                    display: true,
                    text: 'Temperature (\u1D52C)',
                    font: { size: 25, weight: 'bold' },
                    padding: { top: 13, bottom: 0 }
                }
            }
        }
    },
    plugins: [insideLegend, boxFrame]
});
</script>
</body>
</html>
